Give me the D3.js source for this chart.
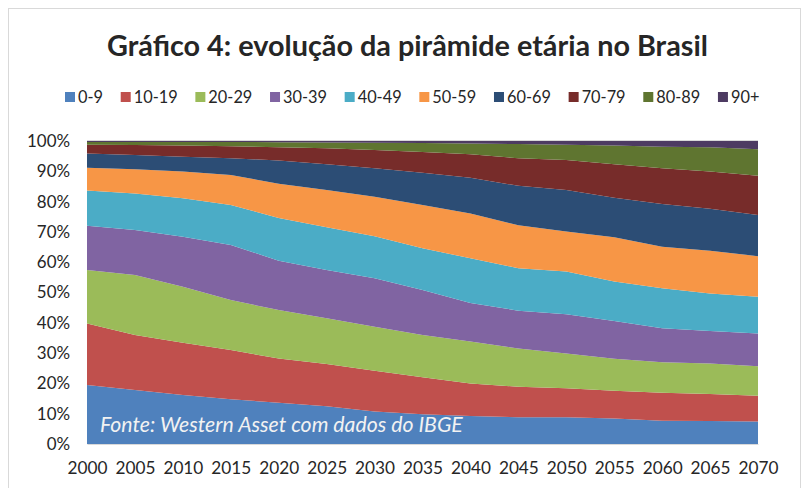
<!DOCTYPE html>
<html>
<head>
<meta charset="UTF-8">
<title>Gráfico 4</title>
<script src="https://cdn.jsdelivr.net/npm/d3@7"></script>
<style>
  body { margin: 0; background: #fff; }
  text { font-family: Lato, "Open Sans", sans-serif; fill: #262626; }
</style>
</head>
<body>
<script>
// anos e faixas etárias
var anos = [2000, 2005, 2010, 2015, 2020, 2025, 2030, 2035, 2040, 2045, 2050, 2055, 2060, 2065, 2070];
var faixas = ["0-9", "10-19", "20-29", "30-39", "40-49", "50-59", "60-69", "70-79", "80-89", "90+"];
var cores = ["#4F81BD", "#C0504D", "#9BBB59", "#8064A2", "#4BACC6", "#F79646", "#2C4D75", "#772C2A", "#5F7530", "#4D3B62"];
var yTicks = [0, 0.1, 0.2, 0.3, 0.4, 0.5, 0.6, 0.7, 0.8, 0.9, 1];

// participação (%) de cada faixa
var f0_9   = [19.5, 17.8, 16.2, 14.8, 13.6, 12.5, 10.7, 9.8, 9.2, 8.8, 8.8, 8.4, 7.7, 7.6, 7.4];
var f10_19 = [20.3, 18.2, 17.2, 16.2, 14.6, 13.9, 13.5, 12.2, 10.8, 10.1, 9.6, 9.2, 9.2, 8.9, 8.5];
var f20_29 = [17.6, 19.8, 18.5, 16.5, 16.0, 15.1, 14.5, 14.0, 13.8, 12.6, 11.5, 10.5, 10.1, 10.1, 9.8];
var f30_39 = [14.6, 14.8, 16.5, 18.2, 16.3, 15.9, 16.0, 14.8, 12.7, 12.5, 12.9, 12.5, 11.2, 10.7, 10.8];
var f40_49 = [11.7, 12.1, 12.7, 13.2, 14.1, 14.1, 13.9, 13.8, 14.8, 14.0, 14.1, 13.0, 13.2, 12.4, 12.1];
var f50_59 = [7.5, 8.0, 8.8, 9.9, 11.3, 12.3, 13.0, 14.3, 14.8, 14.2, 13.2, 14.6, 13.7, 14.1, 13.4];
var f60_69 = [4.7, 4.7, 4.9, 5.5, 7.7, 8.5, 9.4, 10.6, 11.8, 13.0, 13.7, 13.1, 14.1, 13.8, 13.6];
var f70_79 = [2.9, 3.3, 3.7, 4.0, 4.3, 5.3, 6.0, 6.9, 7.7, 9.1, 9.9, 11.0, 11.8, 12.3, 12.9];
var f80_89 = [0.9, 1.0, 1.2, 1.4, 1.7, 1.9, 2.4, 2.9, 3.6, 4.7, 5.1, 6.2, 7.1, 8.0, 8.8];
var f90    = [0.3, 0.3, 0.3, 0.3, 0.4, 0.5, 0.6, 0.7, 0.8, 1.0, 1.2, 1.5, 1.9, 2.1, 2.7];

var series = [f0_9, f10_19, f20_29, f30_39, f40_49, f50_59, f60_69, f70_79, f80_89, f90];

var tabela = anos.map(function(a, i) {
    var row = {ano: a};
    faixas.forEach(function(f, j) { row[f] = series[j][i]; });
    return row;
});

var W = 802, H = 488;
var margin = {left: 87, right: 44, top: 141, bottom: 44};

var svg = d3.select("body").append("svg")
    .attr("width", W)
    .attr("height", H);

// mede a largura de um texto num certo tamanho
function largura(txt, size, weight, style) {
    var t = svg.append("text")
        .style("font-size", size + "px")
        .style("font-weight", weight || "normal")
        .style("font-style", style || "normal")
        .text(txt);
    var w = t.node().getComputedTextLength();
    t.remove();
    return w;
}
// tamanho de fonte para que txt tenha a largura alvo
function ajusta(txt, alvo, weight, style) {
    return 20 * alvo / largura(txt, 20, weight, style);
}

var fsTitulo = ajusta("Gráfico 4: evolução da pirâmide etária no Brasil", 601, "bold");
var fsFonte = ajusta("Fonte: Western Asset com dados do IBGE", 363, "normal", "italic");
var fsX = ajusta("2000", 40);
var fsY = ajusta("100%", 43);
var fsLeg = ajusta("10-19", 44);

// moldura
svg.append("rect")
    .attr("x", 8.5).attr("y", 8.5)
    .attr("width", 792).attr("height", 500)
    .attr("fill", "#fff")
    .attr("stroke", "#d9d9d9");

var x = d3.scaleLinear()
    .domain([anos[0], anos[anos.length - 1]])
    .range([margin.left, W - margin.right]);

var y = d3.scaleLinear()
    .domain([0, 1])
    .range([H - margin.bottom, margin.top]);

var stack = d3.stack().keys(faixas).offset(d3.stackOffsetExpand);
var camadas = stack(tabela);

var area = d3.area()
    .x(function(d) { return x(d.data.ano); })
    .y0(function(d) { return y(d[0]); })
    .y1(function(d) { return y(d[1]); });

// linha de grade 100%
svg.append("line")
    .attr("x1", x(2000)).attr("x2", x(2070))
    .attr("y1", y(1) - 0.5).attr("y2", y(1) - 0.5)
    .attr("stroke", "#d9d9d9");

svg.append("g").selectAll("path")
    .data(camadas)
    .enter()
    .append("path")
    .attr("d", area)
    .attr("fill", function(d, i) { return cores[i]; });

// eixo Y
var yAxis = svg.append("g")
    .attr("transform", "translate(" + (margin.left - 17) + ",0)")
    .call(d3.axisLeft(y).tickValues(yTicks).tickFormat(d3.format(".0%")).tickSize(0).tickPadding(0));
yAxis.select(".domain").remove();
yAxis.selectAll("text").style("font-size", fsY + "px").attr("fill", "#404040");

// eixo X
var xAxis = svg.append("g")
    .attr("transform", "translate(0," + (H - margin.bottom) + ")")
    .call(d3.axisBottom(x).tickValues(anos).tickFormat(d3.format("d")).tickSize(0).tickPadding(18));
xAxis.select(".domain").attr("stroke", "#d9d9d9");
xAxis.selectAll("text").style("font-size", fsX + "px").attr("fill", "#404040");

// título
svg.append("text")
    .attr("x", 407.5).attr("y", 56)
    .attr("text-anchor", "middle")
    .style("font-size", fsTitulo + "px")
    .style("font-weight", "bold")
    .attr("fill", "#000")
    .text("Gráfico 4: evolução da pirâmide etária no Brasil");

// legenda: cada item começa depois do texto anterior
var lx = 65;
faixas.forEach(function(f, i) {
    var g = svg.append("g").attr("transform", "translate(" + lx + ",92)");
    g.append("rect")
        .attr("width", 10).attr("height", 10)
        .attr("fill", cores[i]);
    var t = g.append("text")
        .attr("x", 13).attr("y", 10.5)
        .style("font-size", fsLeg + "px")
        .attr("fill", "#404040")
        .text(f);
    lx += 13 + t.node().getComputedTextLength() + 17.7;
});

// fonte
svg.append("text")
    .attr("x", 100).attr("y", 432)
    .style("font-size", fsFonte + "px")
    .style("font-style", "italic")
    .style("fill", "#f2f2f2")
    .text("Fonte: Western Asset com dados do IBGE");
</script>
</body>
</html>
